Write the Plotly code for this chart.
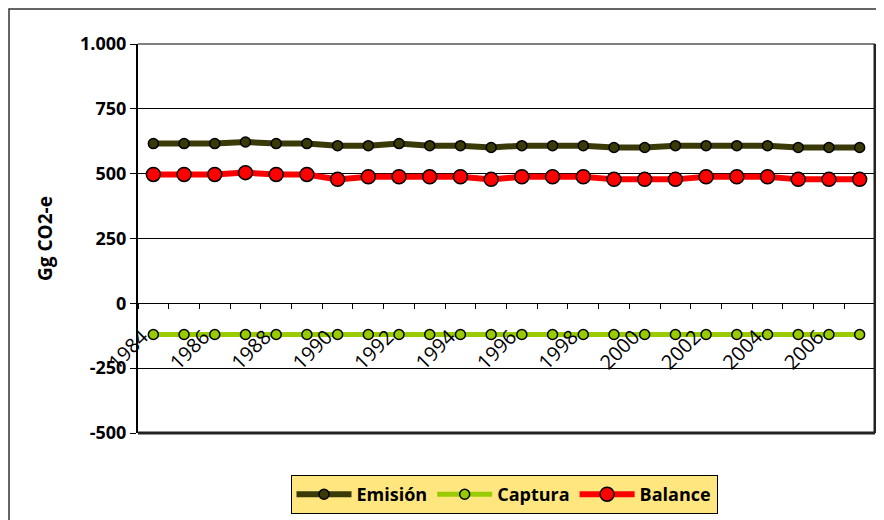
import plotly.graph_objects as go

years = list(range(1984, 2008))
emision = [616, 616, 616, 622, 616, 616, 608, 608, 616, 608, 608, 601,
           608, 608, 608, 601, 601, 608, 608, 608, 608, 601, 601, 601]
captura = [-120] * 24
balance = [497, 497, 497, 504, 497, 497, 478, 488, 488, 488, 488, 478,
           488, 488, 488, 478, 478, 478, 488, 488, 488, 478, 478, 478]
y_tickvals = [-500, -250, 0, 250, 500, 750, 1000]
y_ticktext = ["-500", "-250", "0", "250", "500", "750", "1.000"]
x_tickvals = list(range(1984, 2007, 2))

FONT = "Open Sans"

fig = go.Figure()
fig.add_trace(go.Scatter(
    x=years, y=emision, name="Emisión", mode="lines+markers",
    line=dict(color="#3a3a08", width=6),
    marker=dict(size=10, color="#3a3a08", line=dict(color="black", width=1.5)),
))
fig.add_trace(go.Scatter(
    x=years, y=captura, name="Captura", mode="lines+markers",
    line=dict(color="#99CC00", width=5),
    marker=dict(size=10, color="#99CC00", line=dict(color="black", width=1.5)),
))
fig.add_trace(go.Scatter(
    x=years, y=balance, name="Balance", mode="lines+markers",
    line=dict(color="#FF0000", width=6),
    marker=dict(size=14, color="#FF0000", line=dict(color="black", width=1.5)),
))

# page body has an 8px margin; figure coordinates are shifted accordingly
OFF = 8
W, H = 884 - OFF, 520 - OFF
# plot area in screenshot pixels: left 138, right 875, top 44, bottom 433
L, R, T, B = 138 - OFF, 875 - OFF, 44 - OFF, 433 - OFF
pw, ph = R - L, B - T

def px(x):
    return (x - OFF - L) / pw

def py(y):
    return (B - (y - OFF)) / ph

shapes = [
    # outer chart border
    dict(type="rect", xref="paper", yref="paper",
         x0=px(9), x1=px(900), y0=py(540), y1=py(9),
         line=dict(color="#333", width=1.5), fillcolor="rgba(0,0,0,0)", layer="below"),
    # plot frame
    dict(type="line", xref="paper", yref="paper", x0=0, x1=1, y0=1, y1=1,
         line=dict(color="black", width=1)),
    dict(type="line", xref="paper", yref="paper", x0=1, x1=1, y0=0, y1=1,
         line=dict(color="#222", width=3)),
    dict(type="line", xref="paper", yref="paper", x0=0, x1=1, y0=0, y1=0,
         line=dict(color="#222", width=3)),
]

fig.update_layout(
    width=W, height=H,
    margin=dict(l=L, r=W - R, t=T, b=H - B, autoexpand=False),
    paper_bgcolor="white", plot_bgcolor="white",
    font=dict(family=FONT, color="black"),
    shapes=shapes,
    showlegend=True,
    legend=dict(
        orientation="h", x=px(504), y=py(494.5), xanchor="center", yanchor="middle",
        bgcolor="#FFE67F", bordercolor="black", borderwidth=1,
        font=dict(family=FONT, size=18, color="black", weight="bold"),
        itemwidth=55, tracegroupgap=0,
    ),
    xaxis=dict(
        range=[1983.5, 2007.5],
        anchor="free", position=1/3,
        showline=True, linecolor="black", linewidth=1,
        showgrid=False, zeroline=False,
        tickvals=x_tickvals, ticks="", tickangle=-45,
        tickfont=dict(family=FONT, size=20, color="black"),
        ticklabelstandoff=13, ticklabelshift=-11,
        minor=dict(ticks="outside", tick0=1983.5, dtick=1, ticklen=5,
                   tickcolor="black", tickwidth=1, showgrid=False),
        automargin=False,
    ),
    yaxis=dict(
        range=[-500, 1000],
        tickvals=y_tickvals, ticktext=y_ticktext,
        ticks="outside", ticklen=6, tickcolor="black",
        showline=True, linecolor="black", linewidth=2,
        showgrid=True, gridcolor="black", gridwidth=1,
        zeroline=False,
        tickfont=dict(family=FONT, size=18, color="black", weight="bold"),
        title=dict(text="Gg CO2-e", font=dict(family=FONT, size=19, color="black", weight="bold"),
                   standoff=22),
        automargin=False,
    ),
)

fig.write_html("out.html")
